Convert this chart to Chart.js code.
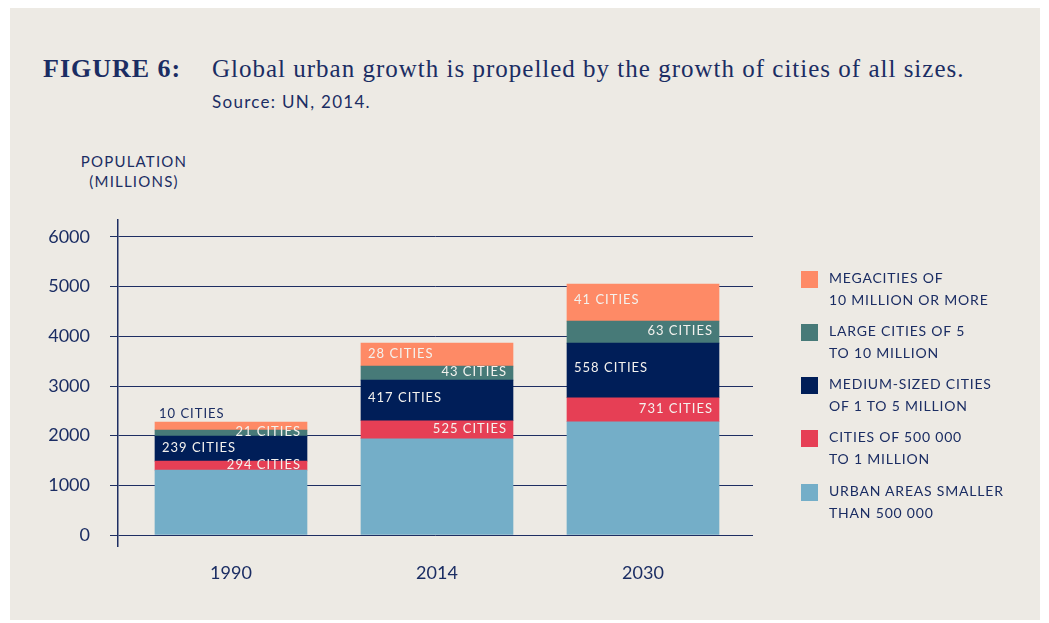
<!DOCTYPE html>
<html><head><meta charset="utf-8">
<script src="https://cdn.jsdelivr.net/npm/chart.js@4.4.1/dist/chart.umd.min.js"></script>
<style>
html,body{margin:0;padding:0;background:#ffffff;}
#wrap{position:relative;width:1049px;height:623px;overflow:hidden;background:#ffffff;}
#panel{position:absolute;left:10px;top:8px;width:1030px;height:612px;background:#EDEAE4;}
#c{position:absolute;left:0;top:0;}
.t{position:absolute;white-space:nowrap;color:#1B2D63;line-height:1;}
#fig{left:43px;top:54px;font:bold 26px "Liberation Serif",serif;letter-spacing:1px;}
#sub{left:212px;top:55px;font:25px "Liberation Serif",serif;letter-spacing:1px;}
#src{left:212px;top:91px;font:17px Lato,sans-serif;letter-spacing:1.3px;}
#ylab{left:74px;top:151px;width:120px;text-align:center;font:15px Lato,sans-serif;letter-spacing:1.2px;line-height:20px;}
#legend{position:absolute;left:801px;top:0;}
.li{position:absolute;left:0;width:240px;}
.sw{position:absolute;left:0;width:17px;height:17px;}
.lt{position:absolute;left:28px;top:-4px;font:14px Lato,sans-serif;letter-spacing:0.8px;line-height:22px;color:#1B2D63;white-space:nowrap;}
</style></head>
<body>
<div id="wrap">
<div id="panel"></div>
<div class="t" id="fig">FIGURE 6:</div>
<div class="t" id="sub">Global urban growth is propelled by the growth of cities of all sizes.</div>
<div class="t" id="src">Source: UN, 2014.</div>
<div class="t" id="ylab">POPULATION<br>(MILLIONS)</div>
<canvas id="c" width="1049" height="623"></canvas>
<div id="legend"></div>
</div>
<script>
// ---- data ----
const years = ['1990', '2014', '2030'];
const smallAreas = [1308, 1938, 2280];
const cities500k = [181, 362, 483];
const mediumCities = [503, 819, 1100];
const largeCities = [121, 281, 443];
const megaCities = [161, 463, 744];
const count500k = [294, 525, 731];
const countMedium = [239, 417, 558];
const countLarge = [21, 43, 63];
const countMega = [10, 28, 41];
const yTicks = [0, 1000, 2000, 3000, 4000, 5000, 6000];
const legendSmall = ['URBAN AREAS SMALLER', 'THAN 500 000'];
const legend500k = ['CITIES OF 500 000', 'TO 1 MILLION'];
const legendMedium = ['MEDIUM-SIZED CITIES', 'OF 1 TO 5 MILLION'];
const legendLarge = ['LARGE CITIES OF 5', 'TO 10 MILLION'];
const legendMega = ['MEGACITIES OF', '10 MILLION OR MORE'];

const NAVY_TEXT = '#1B2D63';
const series = [
  {values: smallAreas, counts: null, side: null, color: '#74AEC8', legend: legendSmall},
  {values: cities500k, counts: count500k, side: 'right', color: '#E63F55', legend: legend500k},
  {values: mediumCities, counts: countMedium, side: 'left', color: '#001E58', legend: legendMedium},
  {values: largeCities, counts: countLarge, side: 'right', color: '#477A78', legend: legendLarge},
  {values: megaCities, counts: countMega, side: 'left', color: '#FE8A66', legend: legendMega}
];

const labelPlugin = {
  id: 'cityLabels',
  afterDatasetsDraw(chart) {
    const ctx = chart.ctx;
    ctx.save();
    ctx.font = '13px Lato, sans-serif';
    if ('letterSpacing' in ctx) ctx.letterSpacing = '1px';
    ctx.textBaseline = 'middle';
    chart.data.datasets.forEach((ds, di) => {
      if (!ds.counts) return;
      const meta = chart.getDatasetMeta(di);
      meta.data.forEach((bar, i) => {
        const p = bar.getProps(['x', 'y', 'base', 'width'], true);
        const h = p.base - p.y;
        const text = ds.counts[i] + ' CITIES';
        const mid = (p.y + p.base) / 2 - (h > 30 ? 3 : 1);
        if (ds.side === 'left') {
          ctx.textAlign = 'left';
          if (h < 14) {
            ctx.fillStyle = NAVY_TEXT;
            ctx.fillText(text, p.x - p.width / 2 + 4, p.y - 8);
          } else {
            ctx.fillStyle = '#F4F2EE';
            ctx.fillText(text, p.x - p.width / 2 + 7, mid);
          }
        } else {
          ctx.textAlign = 'right';
          ctx.fillStyle = '#F4F2EE';
          ctx.fillText(text, p.x + p.width / 2 - 6, mid);
        }
      });
    });
    ctx.restore();
  }
};

new Chart(document.getElementById('c'), {
  type: 'bar',
  data: {
    datasets: series.map(s => ({
      data: s.values.map((v, i) => ({x: i, y: v})),
      backgroundColor: s.color,
      borderWidth: 0,
      barThickness: 152,
      counts: s.counts,
      side: s.side
    }))
  },
  plugins: [labelPlugin],
  options: {
    responsive: false,
    animation: false,
    devicePixelRatio: 1,
    layout: {padding: {left: 0, right: 296, top: 220, bottom: 0}},
    plugins: {legend: {display: false}, tooltip: {enabled: false}, title: {display: false}},
    scales: {
      x: {
        type: 'linear', stacked: true, min: -0.5485, max: 2.534, offset: false,
        afterFit(s) { s.height = 77; },
        afterBuildTicks(s) { s.ticks = years.map((y, i) => ({value: i})); },
        grid: {display: false, drawTicks: false, offset: false},
        border: {display: false},
        ticks: {
          padding: 16, autoSkip: false, maxRotation: 0,
          color: NAVY_TEXT, font: {family: 'Lato', size: 18},
          callback: v => years[v] !== undefined ? years[v] : ''
        }
      },
      y: {
        stacked: true, min: -221, max: 6342,
        afterFit(s) { s.width = 118; },
        afterBuildTicks(s) { s.ticks = yTicks.map(v => ({value: v})); },
        grid: {color: '#1E2E62', lineWidth: 1, tickLength: 8, drawTicks: true},
        border: {color: '#1E2E62', width: 1.5},
        ticks: {padding: 20, color: NAVY_TEXT, font: {family: 'Lato', size: 18}, callback: v => String(v)}
      }
    }
  }
});

// legend built from series (top to bottom = reverse stacking order)
const legendEl = document.getElementById('legend');
const legendTops = [271, 324, 377, 430, 484];
series.slice().reverse().forEach((s, k) => {
  const item = document.createElement('div');
  item.className = 'li';
  item.style.top = legendTops[k] + 'px';
  item.innerHTML = '<div class="sw" style="background:' + s.color + '"></div><div class="lt">' + s.legend.join('<br>') + '</div>';
  legendEl.appendChild(item);
});
</script>
</body></html>
